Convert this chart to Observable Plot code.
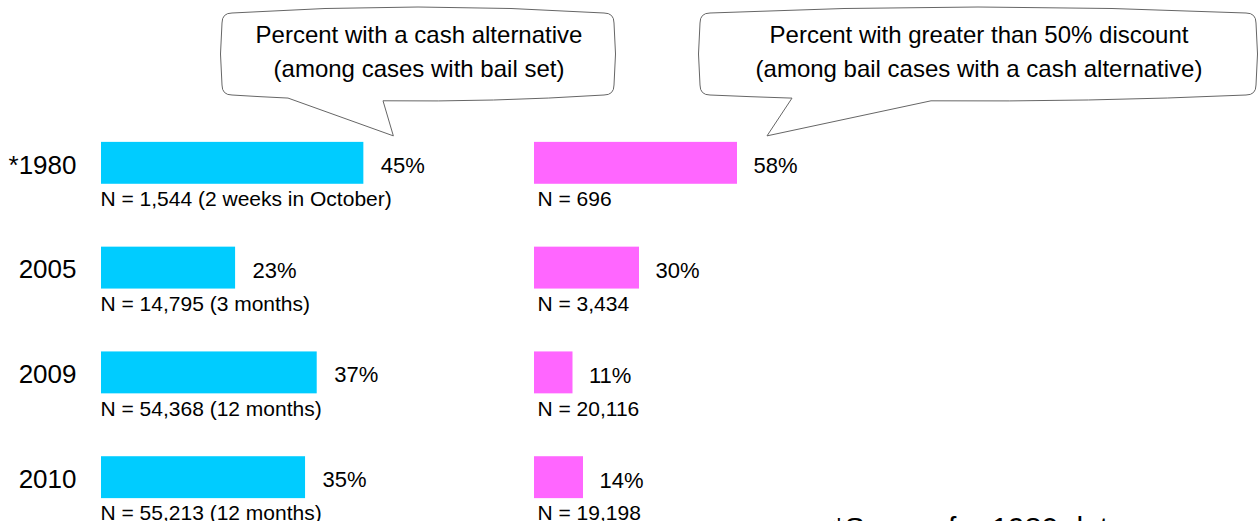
<!DOCTYPE html>
<html><head><meta charset="utf-8">
<script src="https://cdn.jsdelivr.net/npm/d3@7"></script>
<script src="https://cdn.jsdelivr.net/npm/@observablehq/plot@0.6"></script>
<style>
html,body{margin:0;padding:0;overflow:hidden;background:#fff;}
#chart{position:relative;width:1259px;height:521px;font-family:"Liberation Sans",Arial,sans-serif;}
#chart svg{position:absolute;left:0;top:0;}
</style></head><body><div id="chart"></div>
<script>
// ---- data ----
const years = ["*1980", "2005", "2009", "2010"];
const cashPct = [45, 23, 37, 35];
const cashN = ["N = 1,544 (2 weeks in October)", "N = 14,795 (3 months)", "N = 54,368 (12 months)", "N = 55,213 (12 months)"];
const discountPct = [58, 30, 11, 14];
const discountN = ["N = 696", "N = 3,434", "N = 20,116", "N = 19,198"];
const cashTitle = ["Percent with a cash alternative", "(among cases with bail set)"];
const discountTitle = ["Percent with greater than 50% discount", "(among bail cases with a cash alternative)"];
const footnote = "*Source for 1980 data";

const cashRows = years.map((year, i) => ({year, pct: cashPct[i], n: cashN[i]}));
const discRows = years.map((year, i) => ({year, pct: discountPct[i], n: discountN[i]}));

const FONT = "Liberation Sans, Arial, Helvetica, sans-serif";
const yScale = {domain: years, range: [79, 561], padding: 0.6, round: false, axis: null};

// speech-bubble callout, tail pointing at the first bar's label
function calloutMark(box, lines, rows, extra) {
  return (index, scales) => {
    const {x0, x1, y0, y1, r, b, tl, tr} = box;
    const tip = [scales.x(rows[0].pct) + 30, scales.y(rows[0].year) - 6];
    const xm = (x0 + x1) / 2, ym = (y0 + y1) / 2;
    const h = (x1 - r) - xm;
    const py = x => (y1 - b) + b * (1 - ((x - xm) / h) ** 2);
    const dpy = x => -2 * b * (x - xm) / (h * h);
    const seg = (p, xa, xb) => {
      const cx = (xa + xb) / 2, cy = py(xa) + dpy(xa) * (xb - xa) / 2;
      p.quadraticCurveTo(cx, cy, xb, py(xb));
    };
    const p = d3.path();
    p.moveTo(x0 + r, y0 + b);
    p.quadraticCurveTo(xm, y0 - b, x1 - r, y0 + b);
    p.quadraticCurveTo(x1, y0 + b, x1, y0 + b + r);
    p.quadraticCurveTo(x1 + 3, ym, x1, y1 - b - r);
    p.quadraticCurveTo(x1, y1 - b, x1 - r, y1 - b);
    seg(p, x1 - r, tr);
    p.lineTo(tip[0], tip[1]);
    p.lineTo(tl, py(tl));
    seg(p, tl, x0 + r);
    p.quadraticCurveTo(x0, y1 - b, x0, y1 - b - r);
    p.quadraticCurveTo(x0 - 3, ym, x0, y0 + b + r);
    p.quadraticCurveTo(x0, y0 + b, x0 + r, y0 + b);
    p.closePath();
    const g = d3.create("svg:g");
    g.append("path").attr("d", p.toString()).attr("fill", "#fff").attr("stroke", "#666").attr("stroke-width", 1);
    g.selectAll("text.t").data(lines).join("text")
      .attr("x", xm + 1).attr("y", (d, i) => 43 + i * 34)
      .attr("text-anchor", "middle").attr("font-size", 24).attr("fill", "#000").text(d => d);
    if (extra) extra(g);
    return g.node();
  };
}

const leftPlot = Plot.plot({
  width: 1259, height: 521,
  marginLeft: 101, marginRight: 0, marginTop: 0, marginBottom: 0,
  style: {background: "transparent", fontFamily: FONT, overflow: "visible"},
  x: {domain: [0, 100], range: [101, 684], axis: null},
  y: yScale,
  marks: [
    calloutMark({x0: 222, x1: 614, y0: 7, y1: 101, r: 10, b: 6, tl: 288, tr: 383}, cashTitle, cashRows),
    Plot.barX(cashRows, {x: "pct", y: "year", fill: "#00CCFF"}),
    Plot.text(cashRows, {x: "pct", y: "year", text: d => d.pct + "%", textAnchor: "start", dx: 17, dy: 2.5, fontSize: 22, fill: "#000"}),
    Plot.text(cashRows, {x: d => 0, y: "year", text: "n", textAnchor: "start", dx: -1, dy: 36, fontSize: 21, fill: "#000"}),
    Plot.text(cashRows, {y: "year", text: "year", frameAnchor: "left", textAnchor: "end", dx: -25, dy: 2, fontSize: 26, fill: "#000"})
  ]
});

const rightPlot = Plot.plot({
  width: 1259, height: 521,
  marginLeft: 534, marginRight: 0, marginTop: 0, marginBottom: 0,
  style: {background: "transparent", fontFamily: FONT, overflow: "visible"},
  x: {domain: [0, 100], range: [534, 884], axis: null},
  y: yScale,
  marks: [
    calloutMark({x0: 700, x1: 1256, y0: 7, y1: 101, r: 10, b: 6, tl: 792, tr: 931}, discountTitle, discRows,
      g => g.append("text").attr("x", 833).attr("y", 538).attr("text-anchor", "start")
            .attr("font-size", 30).attr("fill", "#000").text(footnote)),
    Plot.barX(discRows, {x: "pct", y: "year", fill: "#FF66FF"}),
    Plot.text(discRows, {x: "pct", y: "year", text: d => d.pct + "%", textAnchor: "start", dx: 16, dy: 3, fontSize: 22, fill: "#000"}),
    Plot.text(discRows, {x: d => 0, y: "year", text: "n", textAnchor: "start", dx: 3, dy: 36, fontSize: 21, fill: "#000"})
  ]
});

const chart = document.getElementById("chart");
chart.appendChild(leftPlot);
chart.appendChild(rightPlot);
</script>
</body></html>
